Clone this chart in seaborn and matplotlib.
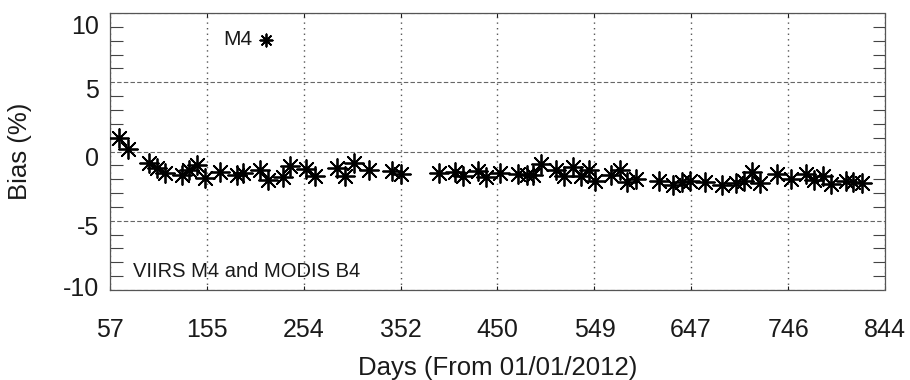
import matplotlib
matplotlib.use("Agg")
import matplotlib.pyplot as plt
import matplotlib.transforms as mtransforms
import seaborn as sns
import pandas as pd
from matplotlib.ticker import MultipleLocator

days = [66, 75, 97, 105, 113, 130, 137, 145, 153, 169, 186, 192, 209, 217, 233,
        240, 256, 265, 288, 296, 305, 320, 343, 352, 391, 407, 415, 431, 439, 453,
        471, 480, 487, 495, 510, 518, 527, 535, 543, 550, 566, 575, 582, 591, 614,
        629, 638, 646, 661, 678, 693, 701, 709, 717, 734, 749, 764, 772, 781, 789,
        804, 812, 821]
bias = [0.96, 0.16, -0.80, -1.19, -1.52, -1.71, -1.32, -1.01, -1.94, -1.51,
        -1.68, -1.53, -1.37, -2.06, -1.86, -1.04, -1.28, -1.80, -1.17, -1.76,
        -0.83, -1.30, -1.44, -1.65, -1.55, -1.51, -1.80, -1.42, -1.86, -1.52,
        -1.65, -1.71, -1.73, -0.87, -1.37, -1.77, -1.14, -1.80, -1.32, -2.16,
        -1.68, -1.37, -2.19, -1.96, -2.16, -2.40, -2.22, -2.16, -2.22, -2.43,
        -2.27, -2.16, -1.46, -2.27, -1.65, -2.00, -1.65, -2.07, -1.80, -2.37,
        -2.13, -2.19, -2.27]
xticks = [57, 155, 254, 352, 450, 549, 647, 746, 844]
yticks = [-10, -5, 0, 5, 10]
series_label = "M4"
note = "VIIRS M4 and MODIS B4"

sns.set_theme(style="white")
plt.rcParams["font.family"] = ["Liberation Sans", "DejaVu Sans"]

fig = plt.figure(figsize=(9.1, 3.8), dpi=100)
ax = fig.add_axes([110 / 910, 90 / 380, 775 / 910, 277 / 380])

df = pd.DataFrame({"Days": days, "Bias": bias})
sns.scatterplot(data=df, x="Days", y="Bias", marker=(8, 2, 0), s=185,
                color="black", linewidth=1.3, label=series_label, ax=ax,
                zorder=3)

ax.set_xlim(57, 844)
ax.set_ylim(-10, 10)
ax.set_xticks(xticks)
ax.set_xticklabels([str(t) for t in xticks])
ax.set_yticks(yticks)
ax.set_yticklabels([str(t) for t in yticks])
ax.yaxis.set_minor_locator(MultipleLocator(1))

ax.tick_params(axis="x", which="major", direction="in", length=3, width=0.8,
               labelsize=18, pad=20, colors="#1a1a1a", top=True, bottom=True)
ax.tick_params(axis="y", which="major", direction="in", length=0,
               labelsize=18, pad=8, colors="#1a1a1a")
ax.tick_params(axis="y", which="minor", direction="in", length=9, width=0.8,
               left=True, right=True, color="#444444")

# shift y tick labels like the reference (IDL-style placement)
shifts = {-10: 3, -5: -5, 0: -5, 5: -6, 10: -12}
for val, lab in zip(yticks, ax.get_yticklabels()):
    off = mtransforms.ScaledTranslation(0, shifts[val] / 100, fig.dpi_scale_trans)
    lab.set_transform(lab.get_transform() + off)

ax.yaxis.grid(True, which="major", linestyle=(0, (4, 2)), linewidth=0.8,
              color="#666666")
ax.xaxis.grid(True, which="major", linestyle=(0, (1, 3)), linewidth=1.0,
              color="#555555")
for sp in ax.spines.values():
    sp.set_linestyle((0, (4, 1)))
    sp.set_linewidth(0.9)
    sp.set_color("#555555")
    sp.set_visible(True)

ax.set_xlabel("Days (From 01/01/2012)", fontsize=18.5, color="#1a1a1a",
              labelpad=10)
ax.set_ylabel("Bias (%)", fontsize=18.5, color="#1a1a1a", labelpad=22)

leg = ax.legend(loc="center left", bbox_to_anchor=(0.146, 0.903),
                frameon=False, markerfirst=False, handletextpad=0.15,
                fontsize=15, borderaxespad=0, borderpad=0,
                handlelength=1.0, markerscale=0.65)
for t in leg.get_texts():
    t.set_color("#1a1a1a")

ax.text(0.03, 0.065, note, transform=ax.transAxes, fontsize=14.5,
        va="center", ha="left", color="#1a1a1a")

fig.savefig("out.png", dpi=100)
